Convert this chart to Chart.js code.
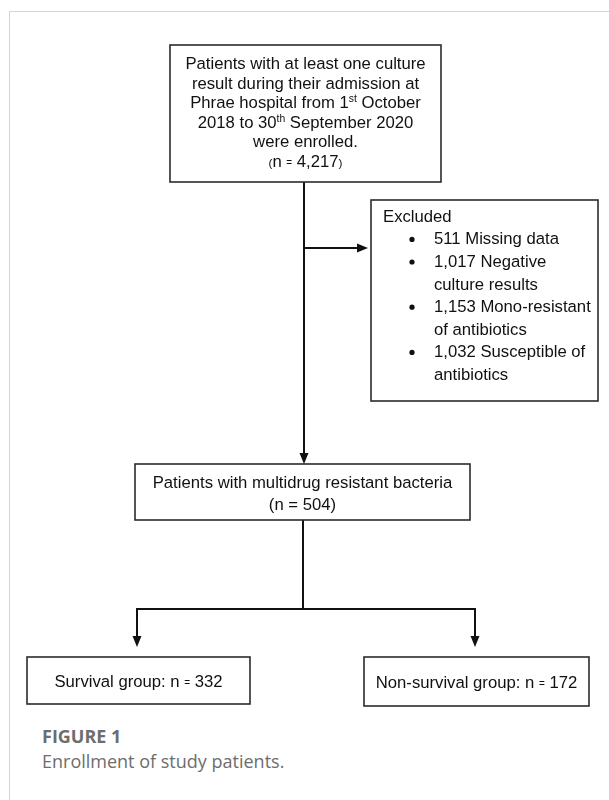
<!DOCTYPE html>
<html>
<head>
<meta charset="utf-8">
<script src="https://cdn.jsdelivr.net/npm/chart.js@4.4.1/dist/chart.umd.min.js"></script>
<style>
  html, body { margin: 0; padding: 0; background: #fff; }
  body { width: 609px; height: 800px; position: relative; overflow: hidden; }
  .frame { position: absolute; left: 9px; top: 11px; right: -2px; bottom: -2px;
           border-left: 1.5px solid #d4d4d4; border-top: 1.5px solid #d4d4d4; }
  #wrap { position: absolute; left: 0; top: 0; width: 609px; height: 720px; }
  .cap { position: absolute; left: 42px; font-family: "Open Sans", sans-serif;
         font-size: 18px; line-height: 24px; color: #6d6d6d; white-space: nowrap; }
  .cap.title { top: 724px; font-weight: 700; }
  .cap.text { top: 749px; }
</style>
</head>
<body>
<div class="frame"></div>
<div id="wrap"><canvas id="flow" width="609" height="720"></canvas></div>
<div class="cap title">FIGURE 1</div>
<div class="cap text">Enrollment of study patients.</div>

<script>
// flow counts
const enrolledCount = 4217;
const excludedReasons = ['Missing data', 'Negative culture results', 'Mono-resistant of antibiotics', 'Susceptible of antibiotics'];
const excludedCounts = [511, 1017, 1153, 1032];
const mdrCount = 504;
const groupLabels = ['Survival group', 'Non-survival group'];
const groupCounts = [332, 172];

// layout, in scale units (x 0-609, y 0-720 top down)
const layout = {
  enrolled: { x1: 170, x2: 441, y1: 45, y2: 182 },
  excluded: { x1: 371, x2: 598, y1: 200, y2: 401 },
  mdr: { x1: 135, x2: 470, y1: 464, y2: 520 },
  groups: [
    { x1: 27, x2: 250, y1: 657, y2: 704 },
    { x1: 364, x2: 589, y1: 657, y2: 706 }
  ],
  trunkX: 304,
  excludeY: 248,
  splitX: 303,
  splitY: 609,
  branchX: [137, 475],
  branchTip: 647
};

const FONT = '"Liberation Sans", Arial, sans-serif';
const SIZE = 16.7;
const fmt = v => v.toLocaleString('en-US');

function setFont(ctx, px) { ctx.font = px + 'px ' + FONT; }

// draws a line made of segments (with optional smaller / raised parts)
function richLine(ctx, segs, x, y, align) {
  let w = 0;
  segs.forEach(s => { setFont(ctx, SIZE * (s.k || 1)); s.w = ctx.measureText(s.t).width; w += s.w; });
  let cx = align === 'center' ? x - w / 2 : x;
  segs.forEach(s => {
    setFont(ctx, SIZE * (s.k || 1));
    ctx.fillText(s.t, cx, y + (s.dy || 0));
    cx += s.w;
  });
}

function wrap(ctx, text, maxW) {
  setFont(ctx, SIZE);
  const words = text.split(' ');
  const lines = [];
  let cur = '';
  words.forEach(wd => {
    const test = cur ? cur + ' ' + wd : wd;
    if (cur && ctx.measureText(test).width > maxW) { lines.push(cur); cur = wd; }
    else cur = test;
  });
  if (cur) lines.push(cur);
  return lines;
}

function nText(v) {
  return [{ t: '(', k: 0.7 }, { t: 'n ' }, { t: '=', k: 0.6, dy: -1 }, { t: ' ' + fmt(v) }, { t: ')', k: 0.7 }];
}

const flowPlugin = {
  id: 'flow',
  afterDraw(chart) {
    const ctx = chart.ctx;
    const xs = chart.scales.x, ys = chart.scales.y;
    const px = v => xs.getPixelForValue(v);
    const py = v => ys.getPixelForValue(v);

    ctx.save();
    ctx.fillStyle = '#111';
    ctx.textBaseline = 'alphabetic';
    ctx.textAlign = 'left';

    function box(b) {
      ctx.lineWidth = 1.6;
      ctx.strokeStyle = '#2b2b2b';
      ctx.strokeRect(px(b.x1), py(b.y1), px(b.x2) - px(b.x1), py(b.y2) - py(b.y1));
    }
    function line(x1, y1, x2, y2) {
      ctx.lineWidth = 2;
      ctx.strokeStyle = '#111';
      ctx.beginPath();
      ctx.moveTo(px(x1), py(y1));
      ctx.lineTo(px(x2), py(y2));
      ctx.stroke();
    }
    function head(x, y, dir) {
      const X = px(x), Y = py(y);
      ctx.beginPath();
      if (dir === 'down') { ctx.moveTo(X, Y); ctx.lineTo(X - 4.5, Y - 11); ctx.lineTo(X + 4.5, Y - 11); }
      else { ctx.moveTo(X, Y); ctx.lineTo(X - 11, Y - 4.5); ctx.lineTo(X - 11, Y + 4.5); }
      ctx.closePath();
      ctx.fill();
    }

    // connectors
    const L = layout;
    line(L.trunkX, L.enrolled.y2, L.trunkX, L.mdr.y1 - 6);
    head(L.trunkX, L.mdr.y1, 'down');
    line(L.trunkX, L.excludeY, L.excluded.x1 - 10, L.excludeY);
    head(L.excluded.x1 - 3, L.excludeY, 'right');
    line(L.splitX, L.mdr.y2, L.splitX, L.splitY);
    line(L.branchX[0] - 1, L.splitY, L.branchX[1] + 1, L.splitY);
    L.branchX.forEach(bx => {
      line(bx, L.splitY, bx, L.branchTip - 6);
      head(bx, L.branchTip, 'down');
    });

    // enrolled box
    box(L.enrolled);
    const ecx = (L.enrolled.x1 + L.enrolled.x2) / 2;
    const topLines = [
      [{ t: 'Patients with at least one culture' }],
      [{ t: 'result during their admission at' }],
      [{ t: 'Phrae hospital from 1' }, { t: 'st', k: 0.62, dy: -6 }, { t: ' October' }],
      [{ t: '2018 to 30' }, { t: 'th', k: 0.62, dy: -6 }, { t: ' September 2020' }],
      [{ t: 'were enrolled.' }],
      nText(enrolledCount)
    ];
    const topBase = [69, 88.5, 108, 127.5, 147, 166.5];
    topLines.forEach((segs, i) => richLine(ctx, segs, px(ecx), py(topBase[i]), 'center'));

    // excluded box
    box(L.excluded);
    richLine(ctx, [{ t: 'Excluded' }], px(383), py(222), 'left');
    let by = 244.4;
    excludedReasons.forEach((r, i) => {
      const lines = wrap(ctx, fmt(excludedCounts[i]) + ' ' + r, 160);
      ctx.beginPath();
      ctx.arc(px(412), py(by) - 5, 2.6, 0, Math.PI * 2);
      ctx.fill();
      lines.forEach(ln => {
        richLine(ctx, [{ t: ln }], px(434), py(by), 'left');
        by += 22.6;
      });
    });

    // mdr box
    box(L.mdr);
    const mcx = (L.mdr.x1 + L.mdr.x2) / 2;
    richLine(ctx, [{ t: 'Patients with multidrug resistant bacteria' }], px(mcx), py(488), 'center');
    richLine(ctx, [{ t: '(n = ' + fmt(mdrCount) + ')' }], px(mcx), py(510), 'center');

    // outcome groups
    L.groups.forEach((g, i) => {
      box(g);
      const gcx = (g.x1 + g.x2) / 2;
      richLine(ctx, [{ t: groupLabels[i] + ': n ' }, { t: '=', k: 0.6, dy: -1 }, { t: ' ' + groupCounts[i] }],
        px(gcx), py((g.y1 + g.y2) / 2 + 6.5), 'center');
    });

    ctx.restore();
  }
};

new Chart(document.getElementById('flow').getContext('2d'), {
  type: 'scatter',
  data: {
    datasets: [{
      label: 'nodes',
      data: [layout.enrolled, layout.excluded, layout.mdr].concat(layout.groups)
        .map(b => ({ x: (b.x1 + b.x2) / 2, y: (b.y1 + b.y2) / 2 })),
      pointRadius: 0
    }]
  },
  options: {
    responsive: false,
    animation: false,
    events: [],
    layout: { padding: 0 },
    plugins: { legend: { display: false }, tooltip: { enabled: false } },
    scales: {
      x: { type: 'linear', min: 0, max: 609, display: false },
      y: { type: 'linear', min: 0, max: 720, reverse: true, display: false }
    }
  },
  plugins: [flowPlugin]
});
</script>
</body>
</html>
